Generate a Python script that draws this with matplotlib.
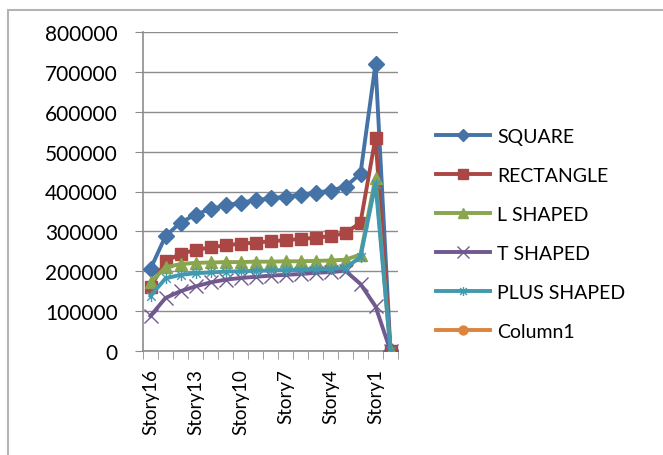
import numpy as np
import matplotlib.pyplot as plt
from matplotlib.path import Path
from matplotlib.patches import Rectangle

plt.rcParams['font.family'] = ['Lato', 'DejaVu Sans']

stories = ["Story16", "Story15", "Story14", "Story13", "Story12", "Story11",
           "Story10", "Story9", "Story8", "Story7", "Story6", "Story5",
           "Story4", "Story3", "Story2", "Story1", "Base"]

square = [206000, 288000, 322000, 342000, 356000, 365000, 372000, 378000,
          383000, 387000, 392000, 397000, 402000, 412000, 445000, 720000, 0]
rectangle = [160000, 225000, 244000, 253000, 260000, 265000, 269000, 272000,
             275000, 278000, 281000, 284000, 288000, 296000, 322000, 535000, 0]
l_shaped = [172000, 210000, 218000, 221000, 222000, 223000, 223000, 224000,
            224000, 225000, 225000, 226000, 227000, 229000, 242000, 435000, 0]
t_shaped = [88000, 133000, 150000, 162000, 172000, 179000, 183000, 186000,
            189000, 191000, 193000, 196000, 198000, 201000, 168000, 112000, 0]
plus_shaped = [138000, 182000, 191000, 195000, 197000, 199000, 200000, 201000,
               202000, 203000, 204000, 205000, 206000, 208000, 236000, 420000, 0]
column1 = [np.nan] * len(stories)

star = Path([(-1, -1), (1, 1), (-1, 1), (1, -1), (0, -1.3), (0, 1.3)],
            [Path.MOVETO, Path.LINETO] * 3)

series = [
    ("SQUARE", square, "#4572A7", "D", 8),
    ("RECTANGLE", rectangle, "#AA4643", "s", 9),
    ("L SHAPED", l_shaped, "#89A54E", "^", 9),
    ("T SHAPED", t_shaped, "#71588F", "x", 10),
    ("PLUS SHAPED", plus_shaped, "#4198AF", star, 8),
    ("Column1", column1, "#DB843D", "o", 8),
]

fig = plt.figure(figsize=(6.63, 4.56), dpi=100)
ax = fig.add_axes([143 / 663, 1 - 352 / 456, 255 / 663, 319 / 456])

x = np.arange(len(stories))
for name, vals, col, mk, ms in series:
    ax.plot(x, vals, color=col, lw=2.8, marker=mk, markersize=ms,
            markeredgewidth=1.0, markeredgecolor=col, markerfacecolor=col,
            label=name, zorder=3)

ax.set_xlim(-0.5, len(stories) - 0.5)
ax.set_ylim(0, 800000)
ax.set_yticks(range(0, 800001, 100000))
ax.set_yticklabels([str(v) for v in range(0, 800001, 100000)])
ax.grid(axis="y", color="#8c8c8c", lw=1.0)
ax.set_axisbelow(True)

ax.set_xticks(x[::3])
ax.set_xticklabels(stories[::3], rotation=90)
ax.set_xticks(np.arange(-0.5, len(stories)), minor=True)
ax.tick_params(axis="x", which="major", length=0, pad=12, labelsize=13.5)
ax.tick_params(axis="x", which="minor", length=6, color="#8c8c8c")
ax.tick_params(axis="y", length=6, color="#8c8c8c", labelsize=15, pad=12)

for s in ("top", "right"):
    ax.spines[s].set_visible(False)
for s in ("left", "bottom"):
    ax.spines[s].set_color("#8c8c8c")
    ax.spines[s].set_linewidth(1.2)

ax.legend(loc="center left", bbox_to_anchor=(1.149, 0.367), frameon=False,
          fontsize=14, labelspacing=1.13, handlelength=2.8,
          handletextpad=0.36, markerscale=0.8, borderpad=0, borderaxespad=0)

fig.patches.append(Rectangle((8 / 663, -0.1), 1.2, 1 - 11 / 456 + 0.1,
                             transform=fig.transFigure, fill=False,
                             edgecolor="#b4b4b4", lw=1.5))

plt.savefig("out.png", dpi=100)
